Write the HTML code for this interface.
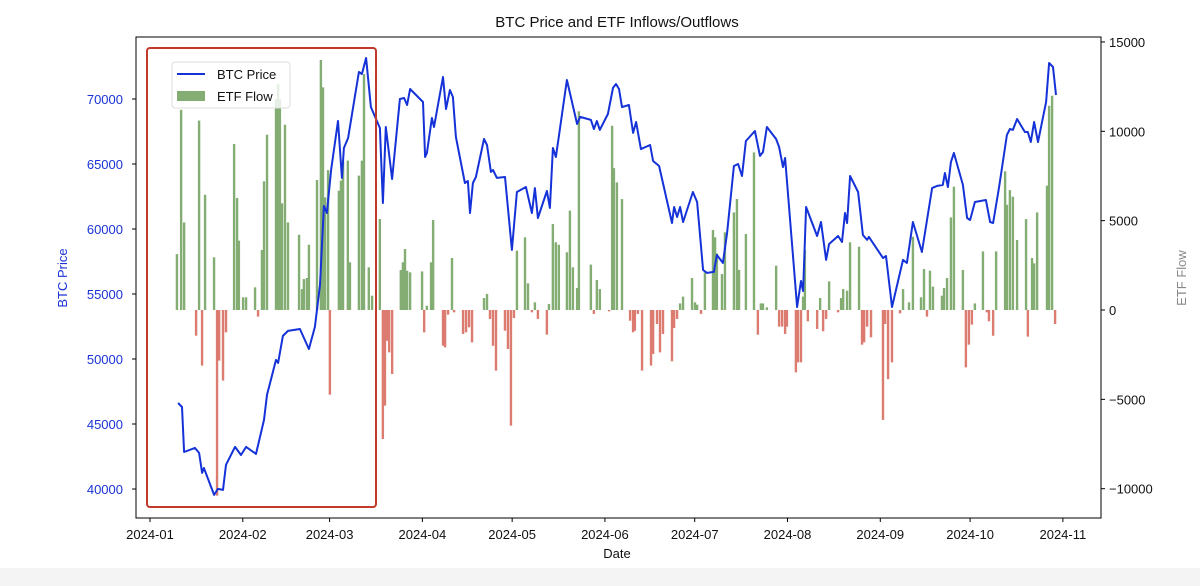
<!DOCTYPE html>
<html><head><meta charset="utf-8"><style>
html,body{margin:0;padding:0;background:#fff;}
svg{display:block;font-family:"Liberation Sans",sans-serif;}
</style></head><body>
<svg id="chart" width="1200" height="586" viewBox="0 0 1200 586">
<rect x="0" y="0" width="1200" height="586" fill="#fff"/>
<rect x="0" y="568" width="1200" height="18" fill="#f4f4f4"/>
<text x="617" y="27" font-size="15" text-anchor="middle" fill="#111">BTC Price and ETF Inflows/Outflows</text>
<g id="bars"></g>
<g id="line"></g>
<rect x="136" y="37" width="965" height="481" fill="none" stroke="#000" stroke-width="1"/>
<g id="axes"></g>
<text x="617" y="558" font-size="13" text-anchor="middle" fill="#111">Date</text>
<text transform="translate(67,278) rotate(-90)" font-size="13" text-anchor="middle" fill="#1a33d6">BTC Price</text>
<text transform="translate(1186,278) rotate(-90)" font-size="13" text-anchor="middle" fill="#888">ETF Flow</text>
<rect x="147" y="48" width="229" height="459" rx="3" fill="none" stroke="#c0392b" stroke-width="2"/>
<g>
<rect x="172" y="62" width="118" height="46" rx="3" fill="#fff" fill-opacity="0.8" stroke="#ddd"/>
<line x1="177" y1="74" x2="205" y2="74" stroke="#1432d8" stroke-width="2"/>
<text x="217" y="79" font-size="13" fill="#111">BTC Price</text>
<rect x="177" y="91" width="28" height="10" fill="#84ad74"/>
<text x="217" y="101" font-size="13" fill="#111">ETF Flow</text>
</g>
</svg>
<script>
const priceDays=[9.4,10.7,11.4,15,16.4,17.4,18,21.4,22.7,24.4,25.4,28.4,30.4,32.1,35.4,38.1,39.1,42.1,42.8,44.4,46.1,50.1,53.1,55.1,56.8,58.1,59.1,60.5,62.8,64.1,64.8,66.2,69.8,70.8,72.2,73.8,76.8,77.8,78.8,80.9,83.5,84.9,85.9,86.9,91.2,91.9,92.5,94.2,94.9,97.9,98.9,100.2,101.2,102.2,105.2,106.2,106.9,107.9,108.9,111.6,112.6,113.9,114.6,115.9,118.6,120.9,122.6,125.6,127.6,128.6,129.6,132.6,133.6,134.6,135.6,139.3,142.7,143.7,147.3,148.3,149.3,150.3,153,154.7,155.7,156.7,157.7,160,161.4,162.4,164,167.1,168.1,170.1,174.4,175.1,176.1,177.1,178.1,181.4,182.8,184.8,186.1,188.4,189.4,191.4,192.8,195.1,196.5,197.8,199.1,202.1,203.8,204.8,206.1,209.2,210.2,211.5,212.2,216.2,217.5,218.2,219.2,222.9,224.2,225.9,226.9,229.9,231.2,232.2,232.9,233.9,236.6,238.2,239.6,240.2,244.9,245.9,247.9,251.6,252.9,254.9,257.9,261.3,262.9,264.9,265.6,266.6,267.6,268.6,271.6,273,274,275.6,279.3,280.7,281.7,283.7,286.3,287.3,288.3,289.7,292.3,293.3,294.3,295.4,296.7,299.4,300.4,301.7,302.7];
const priceValues=[46620,46310,42850,43160,42780,41240,41620,39550,40010,39930,41860,43240,42620,43240,42700,45320,47240,49930,49700,51780,52160,52310,50770,52470,55700,61770,61230,64540,68310,63930,66230,67000,72080,71920,73150,69380,67770,62000,67850,63850,70000,70080,69540,70770,69770,65540,65850,68540,67850,71690,69230,70690,70150,67080,63540,63690,61230,63540,64000,66920,66460,64390,64540,63930,64000,58390,62850,63230,61230,63150,60850,62920,61620,66230,65540,71460,68080,68620,68390,67690,68310,67620,68850,70850,71150,70770,69380,69540,67390,68230,66150,66460,65230,64850,60460,61690,60920,61690,60540,62850,62080,56850,56620,56700,58000,57390,59700,64850,65000,64080,66770,67540,65620,65920,67850,66920,66310,64770,65460,54000,56000,55230,61690,59460,60540,57620,58850,59460,59000,61230,60460,64080,62850,59540,59160,59390,57770,57920,54000,57620,57390,60540,58230,63150,63310,63390,64310,63230,65150,65850,63390,60850,60690,62080,62230,60540,60460,63230,67230,67690,67620,68460,67460,67460,66690,68230,66690,69770,72770,72460,70310];
const flowDays=[9,10.4,11.4,15.4,16.4,17.4,18.4,21.4,22.4,23.1,24.4,25.4,28.1,29.1,29.7,31.1,32.1,35.1,36.1,37.4,38.1,39.1,42.1,42.8,43.4,44.1,45.1,46.1,49.8,50.8,51.4,52.4,53.1,55.8,57.1,57.8,58.5,59.5,60.1,63.1,63.8,64.5,66.1,66.8,69.8,70.8,71.5,73.1,74.2,76.8,77.8,78.5,79.2,79.9,80.9,83.8,84.5,85.2,85.9,86.9,90.9,91.6,92.5,93.9,94.6,97.9,98.6,99.6,100.9,101.6,104.6,105.6,106.6,107.6,111.6,112.6,113.6,114.6,115.6,118.6,119.6,120.6,121.6,122.6,125.3,126.3,127.6,128.6,129.6,132.6,133.3,134.6,135.6,136.6,139.3,140.3,141.3,142.7,143.3,147.3,148.3,149.3,150.3,153.4,154.4,155,156,157.7,160.4,161.4,162,163,164.4,167.4,168.1,169.4,170.4,171.4,174.4,175.1,176.1,177.1,178.1,181.1,182.1,182.8,184.1,185.4,188.1,188.8,189.4,191.1,192.1,195.1,196.1,196.8,199.1,201.8,203.1,204.1,204.8,206.1,209.2,210.2,211.2,212.2,212.8,215.8,216.5,217.5,218.2,218.8,219.8,222.9,223.9,224.9,225.9,226.9,229.9,230.9,231.6,232.9,233.9,236.9,237.9,238.6,239.6,240.9,244.9,245.6,246.6,247.9,250.6,251.6,253.6,254.9,257.6,258.6,259.6,260.6,261.6,264.6,265.3,266.3,267.6,268.6,271.6,272.6,273.6,274.6,275.6,278.3,279.6,280.3,281.7,282.7,285.7,286.3,287.3,288.3,289.7,292.7,293.3,294.7,295.4,296.4,299.7,300.4,301.4,302.4];
const flowValues=[3130,11200,4900,-1440,10600,-3110,6450,2950,-10390,-2830,-3950,-1250,9290,6270,3880,710,710,1270,-370,3360,7200,9810,11800,12650,11800,5970,10370,4900,4210,1170,1730,1790,3650,7270,13990,12460,6300,7830,-4740,6680,7240,8360,8360,2670,7520,8360,13200,2390,800,5090,-7220,-5350,-1720,-2370,-3580,2240,2670,3410,2200,2110,2160,-1250,240,2670,5040,-2000,-2090,-260,2910,-130,-1340,-1250,-970,-1810,670,900,-500,-2000,-3390,-1160,-2180,-6470,-450,3320,4070,1490,-130,430,-500,-1380,340,4810,3790,3650,3230,5560,2390,1230,11120,2540,-220,1680,1170,-75,10310,7940,7140,6210,-600,-1250,-1160,-220,-3390,-3110,-2460,-780,-2370,-1340,-2870,-1010,-500,370,750,1790,430,300,-220,2100,4480,4070,3170,2010,4350,5460,6210,2240,4250,8820,-1380,370,370,150,2480,-930,-930,-1340,-930,-3490,-2930,-2930,750,3360,-630,-1060,670,-1190,-500,1600,-130,670,1170,1080,3790,3540,-1940,-1810,-930,-1530,-6150,-780,-3870,-2930,-190,1170,430,4100,710,2290,-370,2200,1310,800,1230,1790,5180,6900,2240,-3210,-1940,-820,370,3280,-130,-630,-1440,3280,7760,5890,6710,6340,3920,5090,-1490,2910,2610,5460,6960,11430,11990,-780];
const monthLabels=["2024-01","2024-02","2024-03","2024-04","2024-05","2024-06","2024-07","2024-08","2024-09","2024-10","2024-11"];
const monthDays=[0,31,60,91,121,152,182,213,244,274,305];
const leftTicks=[40000,45000,50000,55000,60000,65000,70000];
const rightTicks=[-10000,-5000,0,5000,10000,15000];

const NS="http://www.w3.org/2000/svg";
function xS(d){return 150+d*2.993;}
function yL(p){return 99+(70000-p)/76.92;}
function yR(v){return 310-v*0.01787;}
function mk(tag,attrs,parent){const e=document.createElementNS(NS,tag);for(const k in attrs)e.setAttribute(k,attrs[k]);parent.appendChild(e);return e;}

const bars=document.getElementById('bars');
for(let i=0;i<flowDays.length;i++){
  const v=flowValues[i];const x=xS(flowDays[i])-1.2;
  const y0=yR(0),y1=yR(v);
  const r=mk('rect',{x:x,y:Math.min(y0,y1),width:2.4,height:Math.max(0.5,Math.abs(y1-y0)),fill:v>=0?'#84ad74':'#dc7b70'},bars);
  
  
}
const lineG=document.getElementById('line');
let d='';
for(let i=0;i<priceDays.length;i++){d+=(i?'L':'M')+xS(priceDays[i]).toFixed(1)+','+yL(priceValues[i]).toFixed(1);}
const pth=mk('path',{d:d,fill:'none',stroke:'#1432d8','stroke-width':2,'stroke-linejoin':'round'},lineG);



const axes=document.getElementById('axes');
for(let i=0;i<monthDays.length;i++){
  const x=xS(monthDays[i]);
  const t=mk('line',{x1:x,y1:518,x2:x,y2:522,stroke:'#000'},axes);
  
  
  const l=mk('text',{x:x,y:539,'font-size':13,'text-anchor':'middle',fill:'#111'},axes);
  l.textContent=monthLabels[i];
  
  
}
for(const p of leftTicks){
  const y=yL(p);
  const t=mk('line',{x1:132,y1:y,x2:136,y2:y,stroke:'#000'},axes);
  
  
  const l=mk('text',{x:123,y:y+5,'font-size':13,'text-anchor':'end',fill:'#1a33d6'},axes);
  l.textContent=p;
  
  
}
for(const v of rightTicks){
  const y=yR(v);
  const t=mk('line',{x1:1101,y1:y,x2:1105,y2:y,stroke:'#000'},axes);
  
  
  const l=mk('text',{x:1109,y:y+5,'font-size':13,'text-anchor':'start',fill:'#111'},axes);
  l.textContent=(v<0?'\u2212'+(-v):v);
  
  
}
</script>
</body></html>
